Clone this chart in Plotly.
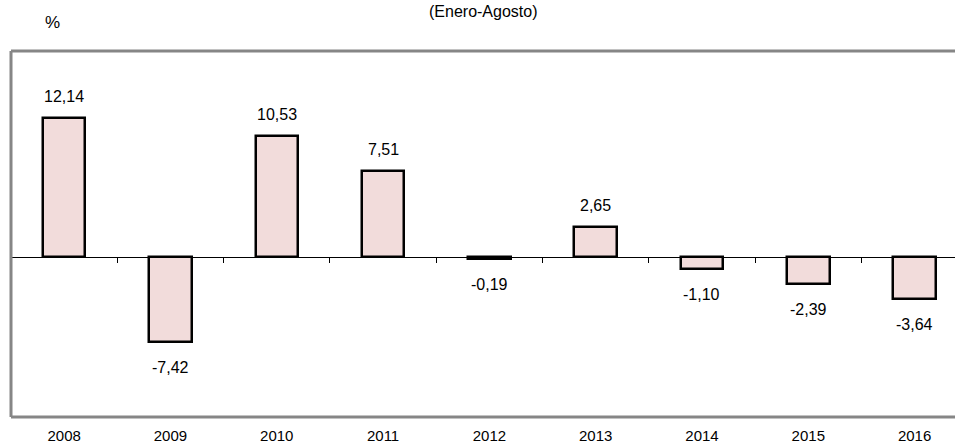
import plotly.graph_objects as go

years = ["2008", "2009", "2010", "2011", "2012", "2013", "2014", "2015", "2016"]
values = [12.14, -7.42, 10.53, 7.51, -0.19, 2.65, -1.10, -2.39, -3.64]
title_text = "(Enero-Agosto)"
unit_text = "%"

y_min, y_max = -14, 18
x_range = [-0.5, 8.38]

fig = go.Figure()
fig.add_trace(go.Bar(
    x=list(range(len(years))), y=values, width=0.4,
    marker=dict(color="#F2DCDB", line=dict(color="#000000", width=2.5)),
    hoverinfo="skip", showlegend=False,
))

def fmt(v):
    return f"{v:.2f}".replace(".", ",")

annotations = []
for i, v in enumerate(values):
    annotations.append(dict(
        x=i, y=v, xref="x", yref="y", text=fmt(v), showarrow=False,
        yanchor="bottom" if v >= 0 else "top",
        yshift=11 if v >= 0 else -15,
        font=dict(family="Liberation Sans, Arial, sans-serif", size=16, color="#000000"),
    ))
annotations.append(dict(
    x=0.5, y=1, xref="paper", yref="paper",
    text=title_text, showarrow=False, yanchor="bottom", yshift=29,
    font=dict(family="Liberation Sans Narrow, Arial Narrow, sans-serif", size=16, color="#000000"),
))
annotations.append(dict(
    x=0, y=1, xref="paper", yref="paper", text=unit_text, showarrow=False,
    xanchor="left", yanchor="bottom", xshift=32, yshift=17,
    font=dict(family="Liberation Sans, Arial, sans-serif", size=17, color="#000000"),
))

frame_col = "#868686"
shapes = [
    dict(type="line", xref="paper", yref="paper", x0=0, x1=1, y0=1, y1=1, line=dict(color=frame_col, width=3)),
    dict(type="line", xref="paper", yref="paper", x0=0, x1=1, y0=0, y1=0, line=dict(color=frame_col, width=3)),
    dict(type="line", xref="paper", yref="paper", x0=0, x1=0, y0=0, y1=1, line=dict(color=frame_col, width=3)),
]

fig.update_layout(
    width=955, height=446,
    margin=dict(l=11, r=0, t=51, b=29),
    paper_bgcolor="white", plot_bgcolor="white",
    annotations=annotations, shapes=shapes,
    xaxis=dict(
        range=x_range, tickvals=list(range(len(years))), ticktext=years,
        showgrid=False, zeroline=False, showline=False, ticks="",
        ticklabelstandoff=8, automargin=False,
        tickfont=dict(family="Liberation Sans Narrow, Arial Narrow, sans-serif", size=15, color="#000000"),
        fixedrange=True,
    ),
    xaxis2=dict(
        range=x_range, overlaying="x", anchor="free",
        position=(0 - y_min) / (y_max - y_min),
        tickvals=[i + 0.5 for i in range(len(years) - 1)],
        showticklabels=False, ticks="outside", ticklen=5, tickcolor="#000000", tickwidth=1,
        showline=True, linecolor="#000000", linewidth=1, showgrid=False, zeroline=False,
        automargin=False,
    ),
    yaxis=dict(range=[y_min, y_max], showgrid=False, zeroline=False, showticklabels=False,
               showline=False, ticks="", automargin=False),
    bargap=0,
)
fig.add_trace(go.Scatter(x=[x_range[0]], y=[0], xaxis="x2", mode="markers",
                         marker=dict(opacity=0), hoverinfo="skip", showlegend=False))

fig.write_html("out.html", config={"displayModeBar": False},
               post_script="document.body.style.margin='0';")
